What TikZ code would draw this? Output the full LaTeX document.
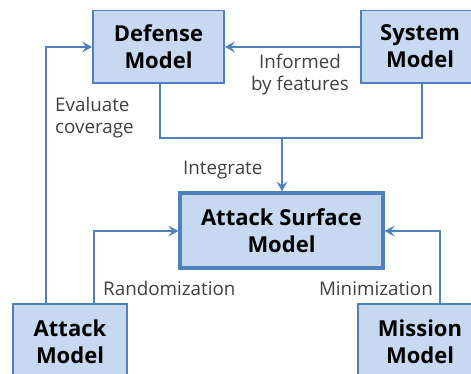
\documentclass[tikz,border=0pt]{standalone}
\usepackage{fontspec}
\setmainfont{Open Sans}
\usetikzlibrary{arrows.meta}
\definecolor{boxfill}{RGB}{198,217,241}
\definecolor{boxline}{RGB}{79,129,189}
\definecolor{labeltext}{RGB}{64,64,64}
\tikzset{
  modelbox/.style={draw=boxline, fill=boxfill, line width=2pt, inner sep=0pt,
    align=center, font=\fontsize{22}{27}\selectfont\bfseries, text=black},
  centralbox/.style={modelbox, line width=3.2pt},
  conn/.style={draw=boxline, line width=2pt},
  arr/.style={conn, -{Stealth[length=10pt,width=11pt,inset=4pt]}},
  lbl/.style={font=\fontsize{18.8}{22}\selectfont, text=labeltext, inner sep=0pt}
}
\begin{document}
\begin{tikzpicture}[x=1pt,y=-1pt]
\useasboundingbox (0,0) rectangle (471,373);
\clip (0,10.8) rectangle (471,373);
% boxes
\node[modelbox, minimum width=131pt, minimum height=73pt] (def) at (158.5,46.5) {Defense\\Model};
\node[modelbox, minimum width=118pt, minimum height=73pt] (sys) at (420,46.5) {System\\Model};
\node[centralbox, minimum width=203pt, minimum height=75pt] (asm) at (281.5,230.5) {Attack Surface\\Model};
\node[modelbox, minimum width=114pt, minimum height=76pt] (atk) at (70,342) {Attack\\Model};
\node[modelbox, minimum width=124pt, minimum height=76pt] (mis) at (420,342) {Mission\\Model};
% connectors
\coordinate (evtop) at (46,47);
\draw[arr] (atk.north -| evtop) -- (evtop) -- (def.west |- evtop);
\draw[arr] (sys.west |- 0,47) -- (def.east |- 0,47);
\coordinate (jl) at (160,138);
\coordinate (jr) at (422,138);
\coordinate (jm) at (282,138);
\draw[conn] (def.south -| jl) -- (jl) -- (jr) -- (sys.south -| jr);
\draw[arr] (jm) -- (asm.north -| jm);
\coordinate (rnd) at (94,231);
\draw[arr] (atk.north -| rnd) -- (rnd) -- (asm.west |- rnd);
\coordinate (mnm) at (440,231);
\draw[arr] (mis.north -| mnm) -- (mnm) -- (asm.east |- mnm);
% labels
\node[lbl, anchor=base west, align=left] (lev) at (55,133) {Evaluate\\coverage};
\node[lbl, anchor=base, align=center] (linf) at (300,90) {Informed\\by features};
\node[lbl, anchor=base west] (lint) at (183,174) {Integrate};
\node[lbl, anchor=base west] (lrnd) at (103,295) {Randomization};
\node[lbl, anchor=base east] (lmin) at (433,295) {Minimization};
\end{tikzpicture}
\end{document}
